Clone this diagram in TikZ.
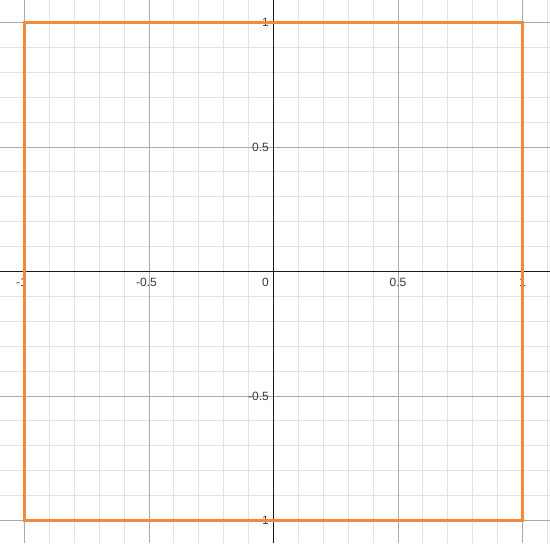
\documentclass[tikz,border=0pt]{standalone}
\usepackage{fontspec}
\setmainfont{Liberation Sans}
\definecolor{minorgrid}{HTML}{E2E2E2}
\definecolor{majorgrid}{HTML}{ABABAB}
\definecolor{axisink}{HTML}{1A1A1A}
\definecolor{square}{HTML}{F5893A}
\definecolor{ticktext}{HTML}{3A3A3A}

\begin{document}
\begin{tikzpicture}[x=249pt,y=249pt,font=\fontsize{12}{14}\selectfont,
    ticklbl/.style={text=ticktext,inner sep=0pt}]
    \useasboundingbox (-1.0984,-1.0904) rectangle (1.1104,1.0904);
    \fill[white](-1.0984,-1.0904) rectangle (1.1104,1.0904);
    % grid: minor every 0.1, major every 0.5
    \foreach \k in {-11,...,11}{
      \draw[minorgrid,line width=.9pt](\k/10,-1.0904)--(\k/10,1.0904);
      \draw[minorgrid,line width=.9pt](-1.0984,\k/10)--(1.1104,\k/10);}
    \foreach \k in {-1,-0.5,0.5,1}{
      \draw[majorgrid,line width=.9pt](\k,-1.0904)--(\k,1.0904);
      \draw[majorgrid,line width=.9pt](-1.0984,\k)--(1.1104,\k);}
    \draw[axisink,line width=1.3pt](-1.0984,0)--(1.1104,0); \draw[axisink,line width=1.3pt](0,-1.0904)--(0,1.0904);
    % tick labels
    \node[ticklbl,anchor=north] (xm1) at (-1.012,-0.026){-1}; \node[ticklbl,anchor=north] (xm05) at (-0.51,-0.026){-0.5};
    \node[ticklbl,anchor=north east] (o) at (-0.018,-0.026){0};
    \node[ticklbl,anchor=north] (x05) at (0.5,-0.026){0.5}; \node[ticklbl,anchor=north] (x1) at (1,-0.026){1};
    \node[ticklbl,anchor=east] (y1) at (-0.018,1){1}; \node[ticklbl,anchor=east] (y05) at (-0.018,0.5){0.5};
    \node[ticklbl,anchor=east] (ym05) at (-0.018,-0.5){-0.5}; \node[ticklbl,anchor=east] (ym1) at (-0.018,-1){-1};
    % the square |x|,|y| <= 1
    \draw[square,line width=2.4pt](-1,-1) rectangle (1,1);
  \end{tikzpicture}
\end{document}
